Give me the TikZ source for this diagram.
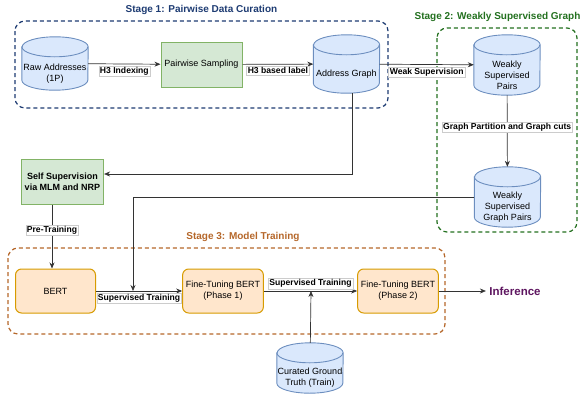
\documentclass[tikz,border=0pt]{standalone}
\usepackage{fontspec}
\setmainfont{Liberation Sans}
\usetikzlibrary{arrows.meta}
\definecolor{cylfill}{HTML}{DAE8FC}
\definecolor{cylline}{HTML}{6C8EBF}
\definecolor{grnfill}{HTML}{D5E8D4}
\definecolor{grnline}{HTML}{82B366}
\definecolor{orgfill}{HTML}{FFE6CC}
\definecolor{orgline}{HTML}{D79B00}
\definecolor{stageone}{HTML}{1D3B72}
\definecolor{stagetwo}{HTML}{23701F}
\definecolor{stagethree}{HTML}{B5672A}
\definecolor{infcol}{HTML}{5E1660}
\begin{document}
\begin{tikzpicture}[x=1pt,y=-1pt]
	\tikzstyle{Cyl} = [rectangle, minimum width=66, inner sep=0pt, append after command={\pgfextra{
		\draw[draw=cylline, fill=cylfill, line width=0.9pt]
			([yshift=-10pt]\tikzlastnode.north west) -- ([yshift=10pt]\tikzlastnode.south west)
			arc[start angle=180, end angle=360, x radius=33pt, y radius=10pt]
			-- ([yshift=-10pt]\tikzlastnode.north east)
			arc[start angle=0, end angle=180, x radius=33pt, y radius=10pt] -- cycle;
		\draw[draw=cylline, line width=0.9pt] ([yshift=-10pt]\tikzlastnode.north west)
			arc[start angle=180, end angle=360, x radius=33pt, y radius=10pt];
	}}]
	\tikzstyle{CylText} = [align=center, font=\fontsize{9}{11}\selectfont, yshift=-10pt]
	\tikzstyle{GreenBox} = [rectangle, draw=grnline, fill=grnfill, line width=1pt, minimum width=81, minimum height=45, align=center]
	\tikzstyle{OrangeBox} = [rectangle, rounded corners=6pt, draw=orgline, fill=orgfill, line width=1pt, minimum width=80, minimum height=44, align=center, font=\fontsize{9}{11}\selectfont]
	\tikzstyle{Lbl} = [fill=white, draw=black!20, line width=0.4pt, inner sep=1.2pt, font=\fontsize{8.6}{9}\selectfont\bfseries]
	\tikzstyle{Stage} = [dashed, dash pattern=on 4pt off 3pt, line width=1.2pt, rounded corners=10pt]
	\tikzstyle{Edge} = [draw=black!80, line width=0.7pt, -{Stealth[length=6pt,width=5pt]}]
	\useasboundingbox (0,0) rectangle (584,394);
	% stage frames
	\draw[Stage, stageone] (15,21) rectangle (388,108);
	\draw[Stage, stagetwo] (437,28) rectangle (577,232);
	\draw[Stage, stagethree] (8,248) rectangle (445,334);
	\node (t1) at (201.5,10) [text=stageone, font=\fontsize{10}{12}\selectfont\bfseries] {Stage 1: Pairwise Data Curation};
	\node (t2) at (497.5,17) [text=stagetwo, font=\fontsize{10}{12}\selectfont\bfseries] {Stage 2: Weakly Supervised Graph};
	\node (t3) at (243,237) [text=stagethree, font=\fontsize{10}{12}\selectfont\bfseries] {Stage 3: Model Training};
	% nodes
	\node (raw) at (55,63.5) [Cyl, minimum height=53, label={[CylText]center:Raw Addresses\\(1P)}] {};
	\node (ps) at (201.5,64.5) [GreenBox, font=\fontsize{9}{11}\selectfont] {Pairwise Sampling};
	\node (ag) at (346.5,64) [Cyl, minimum height=58, label={[CylText]center:Address Graph}] {};
	\node (wsp) at (507,65) [Cyl, minimum height=60, label={[CylText]center:Weakly\\Supervised\\Pairs}] {};
	\node (wsgp) at (507.5,197) [Cyl, minimum height=60, label={[CylText]center:Weakly\\Supervised\\Graph Pairs}] {};
	\node (ss) at (62.5,181.5) [GreenBox, font=\fontsize{9}{11}\selectfont\bfseries] {Self Supervision\\via MLM and NRP};
	\node (bert) at (55.5,291) [OrangeBox] {BERT};
	\node (ft1) at (223,291) [OrangeBox] {Fine-Tuning BERT\\(Phase 1)};
	\node (ft2) at (398,291) [OrangeBox] {Fine-Tuning BERT\\(Phase 2)};
	\node (cgt) at (310,368) [Cyl, minimum height=50, label={[CylText]center:Curated Ground\\Truth (Train)}] {};
	\node (inf) at (515,291) [text=infcol, font=\fontsize{11.5}{13}\selectfont\bfseries] {Inference};
	\coordinate (c1) at (352,174);
	\coordinate (c2) at (133,291);
	\coordinate (c3) at (52,230);
	\coordinate (c4) at (311,291);
	% connectors
	\draw[Edge] (raw) -- (ps) node[Lbl, midway, below=2pt] {H3 Indexing};
	\draw[Edge] (ps) -- (ag) node[Lbl, midway, below=2pt] {H3 based label};
	\draw[Edge] (ag) -- (wsp) node[Lbl, midway, below=2pt] {Weak Supervision};
	\draw[Edge] (wsp) -- (wsgp) node[Lbl, pos=0.45] {Graph Partition and Graph cuts};
	\draw[Edge] (ag.south -| c1) |- (ss.east |- c1);
	\draw[Edge] (wsgp.west) -| (c2);
	\draw[Edge] (ss.south -| c3) -- (bert.north -| c3) node[Lbl, pos=0.4] {Pre-Training};
	\draw[Edge] (bert) -- (ft1) node[Lbl, midway, below=2pt] {Supervised Training};
	\draw[Edge] (ft1) -- (ft2) node[Lbl, midway, above=2pt] {Supervised Training};
	\draw[Edge] (cgt) -- (c4);
	\draw[Edge] (ft2) -- (inf);
\end{tikzpicture}
\end{document}
